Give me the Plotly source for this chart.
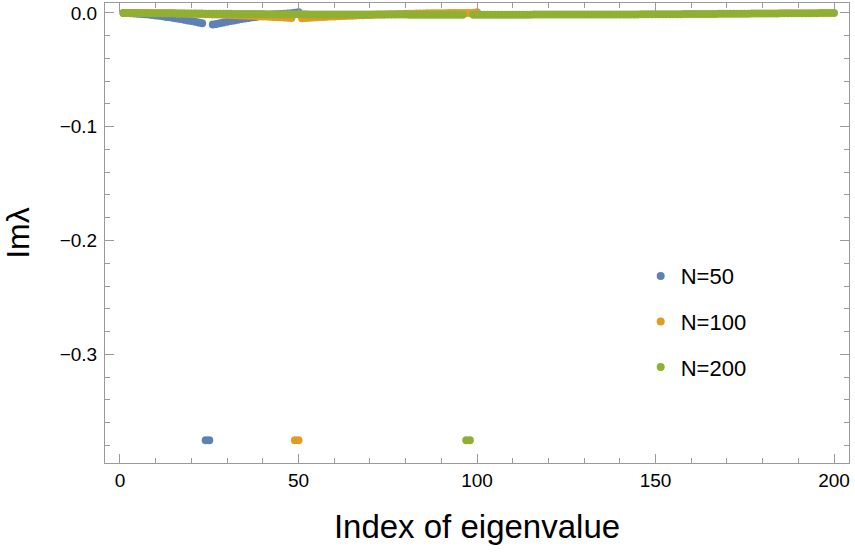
import plotly.graph_objects as go

# Im(lambda) sorted by index, one list per matrix size N
im_n50 = [
    0.0, -0.0001, -0.0003, -0.0005, -0.0007, -0.0009, -0.0012, -0.0015, -0.0018, -0.0022,
    -0.0026, -0.0030, -0.0035, -0.0039, -0.0044, -0.0049, -0.0054, -0.0060, -0.0066, -0.0072,
    -0.0078, -0.0085, -0.0091, -0.3755, -0.3755, -0.0102, -0.0097, -0.0091, -0.0085, -0.0078,
    -0.0072, -0.0066, -0.0060, -0.0054, -0.0049, -0.0044, -0.0039, -0.0035, -0.0030, -0.0026,
    -0.0022, -0.0018, -0.0015, -0.0012, -0.0009, -0.0007, -0.0005, -0.0002, 0.0002, 0.0006,
]

im_n100 = [
    0.0, 0.0, 0.0, 0.0, 0.0, -0.0001, -0.0001, -0.0001, -0.0002, -0.0002,
    -0.0002, -0.0003, -0.0003, -0.0004, -0.0004, -0.0005, -0.0006, -0.0006, -0.0007, -0.0008,
    -0.0008, -0.0009, -0.0010, -0.0011, -0.0012, -0.0013, -0.0014, -0.0015, -0.0016, -0.0017,
    -0.0018, -0.0020, -0.0021, -0.0022, -0.0023, -0.0025, -0.0026, -0.0028, -0.0029, -0.0031,
    -0.0032, -0.0034, -0.0035, -0.0037, -0.0039, -0.0041, -0.0042, -0.0044, -0.3755, -0.3755,
    -0.0046, -0.0044, -0.0042, -0.0041, -0.0039, -0.0037, -0.0036, -0.0034, -0.0032, -0.0031,
    -0.0029, -0.0028, -0.0027, -0.0025, -0.0024, -0.0023, -0.0021, -0.0020, -0.0019, -0.0018,
    -0.0017, -0.0015, -0.0014, -0.0013, -0.0012, -0.0012, -0.0011, -0.0010, -0.0009, -0.0008,
    -0.0007, -0.0007, -0.0006, -0.0005, -0.0005, -0.0004, -0.0004, -0.0003, -0.0003, -0.0002,
    -0.0002, -0.0001, -0.0001, -0.0001, -0.0001, 0.0, 0.0, 0.0, 0.0002, 0.0005,
]

im_n200 = [
    0.0, 0.0, -0.0001, -0.0001, -0.0001, -0.0002, -0.0002, -0.0002, -0.0003, -0.0003,
    -0.0003, -0.0003, -0.0004, -0.0004, -0.0004, -0.0005, -0.0005, -0.0005, -0.0005, -0.0006,
    -0.0006, -0.0006, -0.0006, -0.0007, -0.0007, -0.0007, -0.0007, -0.0008, -0.0008, -0.0008,
    -0.0008, -0.0009, -0.0009, -0.0009, -0.0009, -0.0010, -0.0010, -0.0010, -0.0010, -0.0010,
    -0.0011, -0.0011, -0.0011, -0.0011, -0.0011, -0.0011, -0.0012, -0.0012, -0.0012, -0.0012,
    -0.0012, -0.0012, -0.0013, -0.0013, -0.0013, -0.0013, -0.0013, -0.0013, -0.0013, -0.0014,
    -0.0014, -0.0014, -0.0014, -0.0014, -0.0014, -0.0014, -0.0014, -0.0015, -0.0015, -0.0015,
    -0.0015, -0.0015, -0.0015, -0.0015, -0.0015, -0.0015, -0.0015, -0.0015, -0.0015, -0.0015,
    -0.0016, -0.0016, -0.0016, -0.0016, -0.0016, -0.0016, -0.0016, -0.0016, -0.0016, -0.0016,
    -0.0016, -0.0016, -0.0016, -0.0016, -0.0016, -0.0016, -0.3755, -0.3755, -0.0016, -0.0016,
    -0.0016, -0.0016, -0.0016, -0.0016, -0.0016, -0.0016, -0.0016, -0.0016, -0.0016, -0.0016,
    -0.0016, -0.0016, -0.0016, -0.0016, -0.0016, -0.0015, -0.0015, -0.0015, -0.0015, -0.0015,
    -0.0015, -0.0015, -0.0015, -0.0015, -0.0015, -0.0015, -0.0015, -0.0015, -0.0014, -0.0014,
    -0.0014, -0.0014, -0.0014, -0.0014, -0.0014, -0.0014, -0.0014, -0.0014, -0.0013, -0.0013,
    -0.0013, -0.0013, -0.0013, -0.0013, -0.0013, -0.0012, -0.0012, -0.0012, -0.0012, -0.0012,
    -0.0012, -0.0011, -0.0011, -0.0011, -0.0011, -0.0011, -0.0011, -0.0010, -0.0010, -0.0010,
    -0.0010, -0.0010, -0.0009, -0.0009, -0.0009, -0.0009, -0.0009, -0.0008, -0.0008, -0.0008,
    -0.0008, -0.0008, -0.0007, -0.0007, -0.0007, -0.0007, -0.0006, -0.0006, -0.0006, -0.0006,
    -0.0005, -0.0005, -0.0005, -0.0005, -0.0004, -0.0004, -0.0004, -0.0004, -0.0003, -0.0003,
    -0.0003, -0.0002, -0.0002, -0.0002, -0.0002, -0.0001, -0.0001, -0.0001, 0.0, 0.0,
]

labels = ["N=50", "N=100", "N=200"]
colors = ["#5E81B5", "#E19C24", "#8FB032"]

x_ticks = [0, 50, 100, 150, 200]
y_ticks = [0.0, -0.1, -0.2, -0.3]

font = "Liberation Sans, Arial, sans-serif"
frame = "#9a9a9a"

fig = go.Figure()
for name, vals, col in zip(labels, [im_n50, im_n100, im_n200], colors):
    fig.add_trace(go.Scatter(
        x=list(range(1, len(vals) + 1)), y=vals,
        mode="markers", name=name, legendgroup=name,
        marker=dict(color=col, size=8, line=dict(width=0)),
    ))

axis_common = dict(
    showgrid=False, zeroline=False, automargin=False,
    showline=True, linecolor=frame, linewidth=1, mirror="allticks",
    ticks="inside", ticklen=9, tickcolor=frame, tickwidth=1,
    tickfont=dict(family=font, size=19, color="black"),
)

fig.update_xaxes(
    range=[-4.2, 204.2], tickvals=x_ticks,
    minor=dict(ticks="inside", ticklen=5, tickcolor=frame, dtick=10, tick0=0),
    title=dict(text="Index of eigenvalue", font=dict(family=font, size=33, color="black"), standoff=25),
    **axis_common,
)
fig.update_yaxes(
    range=[-0.3955, 0.0087], tickvals=y_ticks, tickformat=".1f", ticklabelstandoff=3,
    minor=dict(ticks="inside", ticklen=5, tickcolor=frame, dtick=0.02, tick0=0),
    title=dict(text="Imλ", font=dict(family=font, size=32, color="black"), standoff=29),
    **axis_common,
)

fig.update_layout(
    width=855, height=556,
    margin=dict(l=105, r=6, t=3, b=93),
    plot_bgcolor="white", paper_bgcolor="white",
    legend=dict(
        x=0.72, y=0.452, xanchor="left", yanchor="top",
        font=dict(family=font, size=22, color="black"),
        traceorder="grouped", tracegroupgap=14,
        bgcolor="rgba(0,0,0,0)",
    ),
)

# drop the browser's default page margin so the figure sits at the window corner
fig.write_html("out.html", config={"displayModeBar": False},
               post_script="document.body.style.margin='0';")
